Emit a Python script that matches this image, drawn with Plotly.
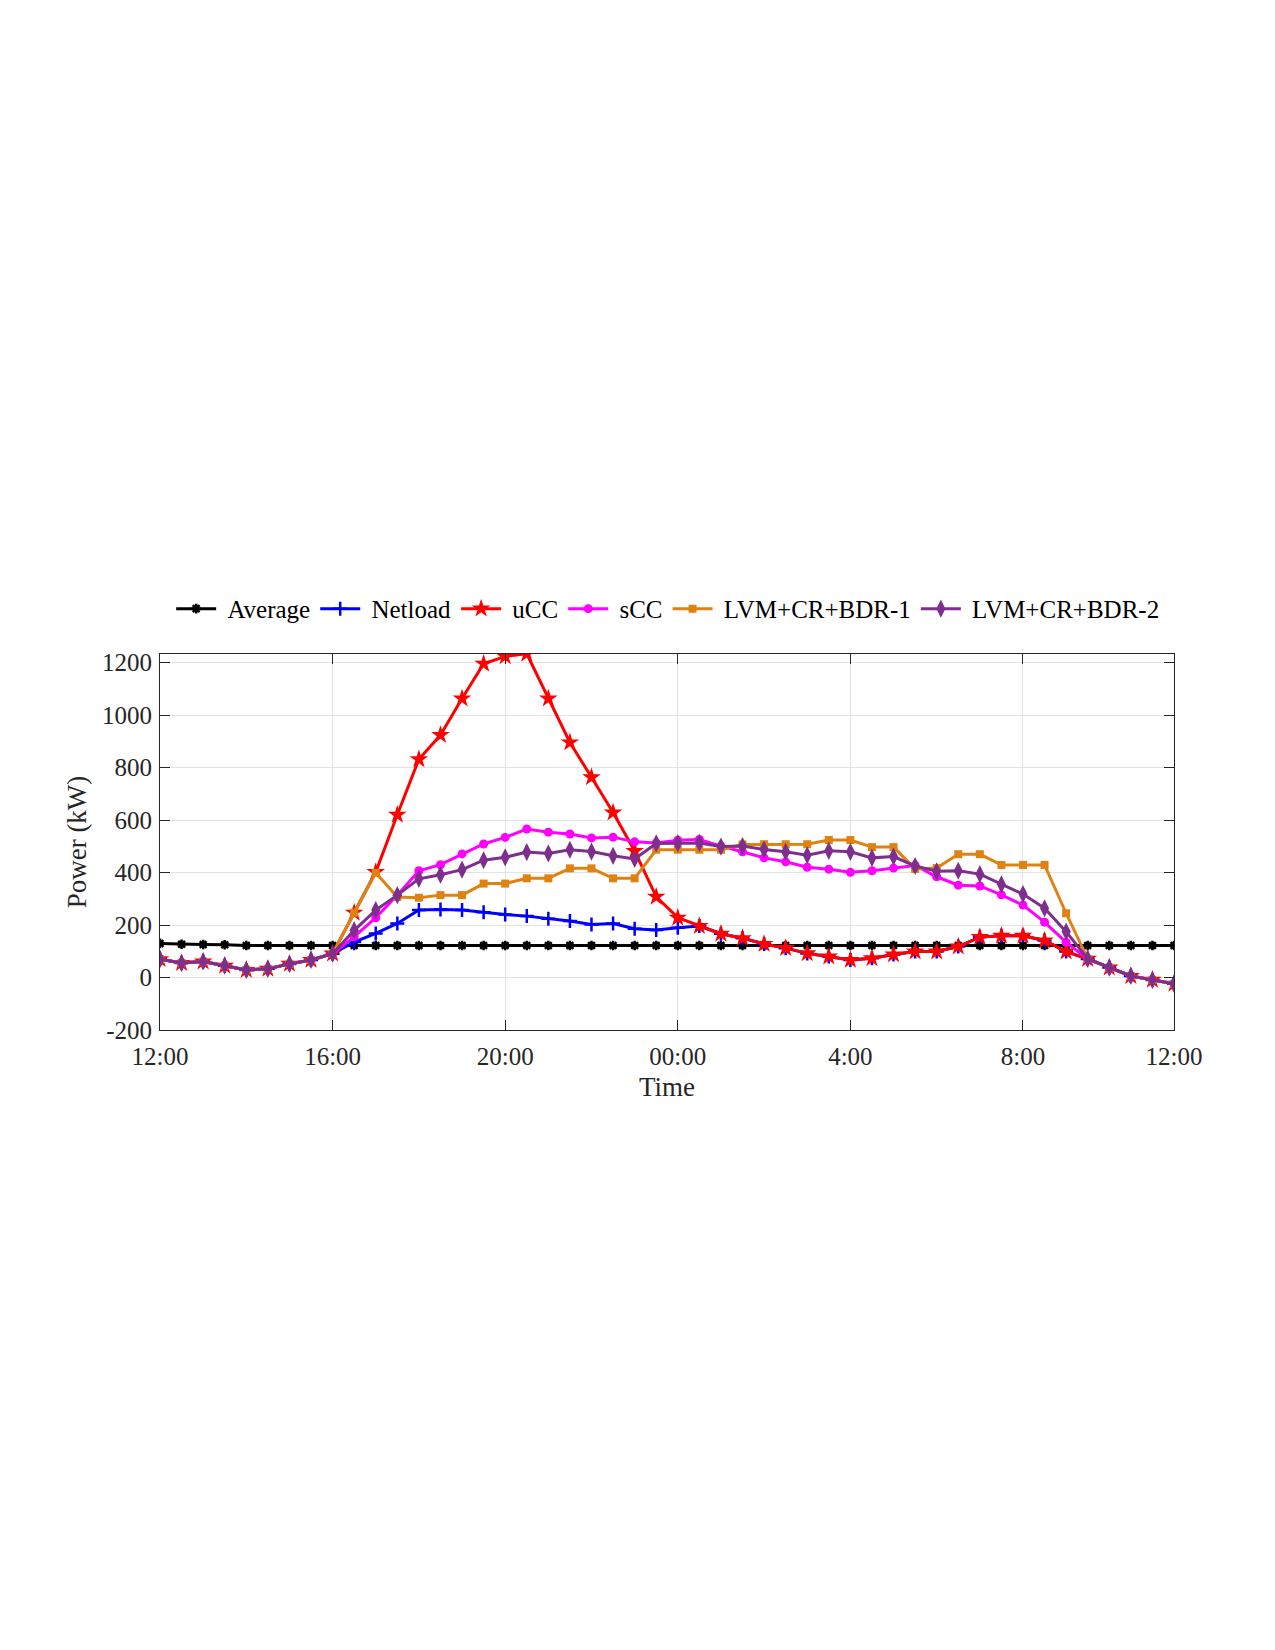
import plotly.graph_objects as go

# ---- data (half-hourly, 12:00 -> 11:30 next day) ----
idx = list(range(48))
tick_pos = [0, 8, 16, 24, 32, 40, 47]
tick_labels = ["12:00", "16:00", "20:00", "00:00", "4:00", "8:00", "12:00"]
y_ticks = [-200, 0, 200, 400, 600, 800, 1000, 1200]
y_tick_labels = ["-200", "0", "200", "400", "600", "800", "1000", "1200"]

average = [130, 127, 126, 125] + [122] * 44

common_start = [70, 55, 61, 45, 29, 33, 52, 67, 91]
common_end = [71, 38, 6, -9, -24]

ucc = common_start + [247, 402, 620, 832, 924, 1063, 1196, 1224, 1234,
                      1063, 896, 763, 629, 482, 308, 228, 196, 167, 150,
                      128, 112, 92, 80, 67, 73, 88, 99, 99, 118, 154,
                      159, 159, 141, 99] + common_end

netload = common_start + [135, 168, 206, 257, 259, 257, 249, 240, 234,
                          224, 215, 202, 206, 186, 181, 190, 196] + ucc[26:]

scc = common_start + [155, 228, 314, 407, 430, 471, 509, 534, 566,
                      554, 547, 532, 535, 517, 513, 523, 526, 501, 479,
                      456, 441, 420, 413, 401, 407, 417, 427, 384, 352,
                      349, 315, 276, 211, 134] + common_end

lvm1 = common_start + [247, 399, 307, 304, 314, 314, 358, 358, 378,
                       378, 416, 416, 378, 378, 487, 487, 487, 487, 507,
                       508, 508, 508, 524, 524, 497, 497, 414, 417, 470,
                       470, 429, 429, 429, 245] + common_end

lvm2 = common_start + [180, 257, 314, 376, 392, 411, 447, 458, 478,
                       473, 487, 480, 464, 452, 511, 512, 513, 499, 501,
                       488, 479, 466, 483, 479, 456, 461, 425, 405, 407,
                       394, 355, 318, 264, 175] + common_end

series = [
    ("Average", average, "#000000", "asterisk-open", 8),
    ("Netload", netload, "#0000FF", "cross-thin-open", 10),
    ("uCC", ucc, "#FF0000", "star", 14),
    ("sCC", scc, "#FF00FF", "circle", 9),
    ("LVM+CR+BDR-1", lvm1, "#DE8212", "square", 8),
    ("LVM+CR+BDR-2", lvm2, "#7E2F8E", "diamond-tall", 13),
]

fig = go.Figure()
for name, vals, col, sym, sz in series:
    fig.add_trace(go.Scatter(
        x=idx, y=vals, name="\u00a0" + name, mode="lines+markers",
        line=dict(color=col, width=3),
        marker=dict(symbol=sym, size=sz, color=col,
                    line=dict(color=col, width=2.5 if sym.endswith("open") else 0)),
    ))

font_family = "Liberation Serif, Times New Roman, serif"
axis_common = dict(
    showline=True, linecolor="#262626", linewidth=1, mirror="ticks",
    ticks="inside", ticklen=10, tickcolor="#262626", tickwidth=1,
    showgrid=True, gridcolor="#e3e3e3", gridwidth=1, zeroline=False,
    tickfont=dict(family=font_family, size=25, color="#262626"),
)

fig.update_layout(
    width=1275, height=1650,
    margin=dict(l=160, r=101, t=654, b=620),
    paper_bgcolor="white", plot_bgcolor="white",
    font=dict(family=font_family, size=25, color="#262626"),
    showlegend=True,
    legend=dict(orientation="h", x=0.011, xanchor="left", y=1.12, yanchor="middle",
                font=dict(family=font_family, size=25, color="#000000"),
                itemwidth=40, tracegroupgap=0, bgcolor="rgba(0,0,0,0)"),
    xaxis=dict(range=[0, 47], tickvals=tick_pos, ticktext=tick_labels,
               ticklabelstandoff=4,
               title=dict(text="Time", standoff=8,
                          font=dict(family=font_family, size=27, color="#262626")),
               **axis_common),
    yaxis=dict(range=[-200, 1233], tickvals=y_ticks, ticktext=y_tick_labels,
               ticklabelstandoff=2,
               title=dict(text="Power (kW)", standoff=7,
                          font=dict(family=font_family, size=27, color="#262626")),
               **axis_common),
)

fig.write_html("out.html")
